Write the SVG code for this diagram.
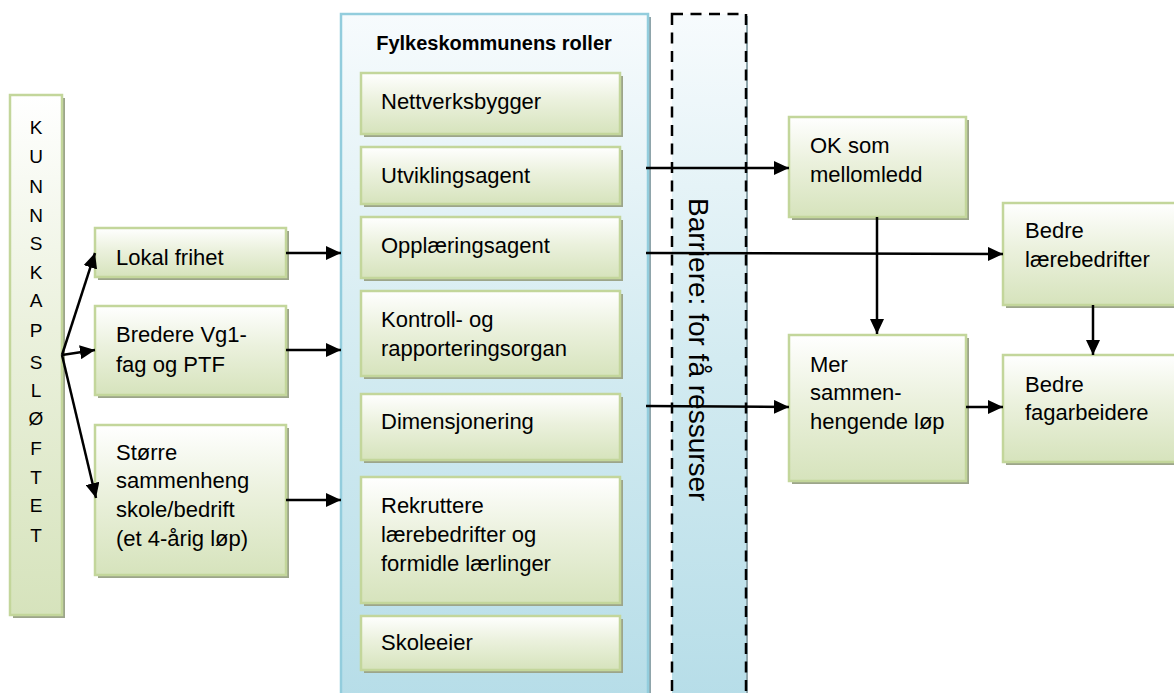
<svg xmlns="http://www.w3.org/2000/svg" width="1174" height="693" viewBox="0 0 1174 693">
  <defs>
    <linearGradient id="greenFill" x1="0" y1="0" x2="0" y2="1">
      <stop offset="0" stop-color="#FFFFFF"/>
      <stop offset="0.45" stop-color="#EBF1DD"/>
      <stop offset="1" stop-color="#D6E3BC"/>
    </linearGradient>
    <linearGradient id="blueFill" x1="0" y1="0" x2="0" y2="1">
      <stop offset="0" stop-color="#F7FBFD"/>
      <stop offset="0.5" stop-color="#D3EBF1"/>
      <stop offset="1" stop-color="#B6DDE8"/>
    </linearGradient>
    <marker id="arrow" markerUnits="userSpaceOnUse" markerWidth="15" markerHeight="14" refX="15" refY="7" orient="auto" viewBox="0 0 15 14">
      <path d="M0,0 L15,7 L0,14 z" fill="#000"/>
    </marker>
    <style>
      .box { fill: url(#greenFill); stroke: #C3D69B; stroke-width: 2.5; }
      .shadow { fill: #9CA58A; }
      .lbl { font-family: "Liberation Sans", Arial, sans-serif; font-size: 22px; fill: #000; }
      .col { font-family: "Liberation Sans", Arial, sans-serif; font-size: 19px; fill: #000; text-anchor: middle; }
      .title { font-family: "Liberation Sans", Arial, sans-serif; font-size: 20px; font-weight: bold; fill: #000; text-anchor: middle; }
      .barrier { font-family: "Liberation Sans", Arial, sans-serif; font-size: 28px; fill: #000; }
      .conn { stroke: #000; stroke-width: 2.5; fill: none; marker-end: url(#arrow); }
    </style>
  </defs>

  <!-- Roles container -->
  <g id="container-roles">
    <rect x="344" y="17" width="307" height="690" fill="#8FA5AB"/>
    <rect x="341" y="14" width="307" height="690" fill="url(#blueFill)" stroke="#93CDDD" stroke-width="2.5"/>
    <text class="title" x="494" y="50">Fylkeskommunens roller</text>
  </g>

  <!-- Barrier band -->
  <g id="barrier">
    <rect x="674" y="16" width="74" height="690" fill="#8FA5AB"/>
    <rect x="672" y="14" width="74" height="690" fill="url(#blueFill)"/>
    <rect x="672" y="14" width="74" height="690" fill="none" stroke="#000" stroke-width="2.5" stroke-dasharray="11 7.5"/>
    <text class="barrier" transform="translate(689,198) rotate(90)">Barriere: for få ressurser</text>
  </g>

  <!-- Left column -->
  <g id="kunnskapsloeftet">
    <rect class="shadow" x="13" y="98" width="52" height="520"/>
    <rect class="box" x="10" y="95" width="52" height="520"/>
    <text class="col" x="36" y="134">K</text>
    <text class="col" x="36" y="163">U</text>
    <text class="col" x="36" y="193">N</text>
    <text class="col" x="36" y="222">N</text>
    <text class="col" x="36" y="250">S</text>
    <text class="col" x="36" y="279">K</text>
    <text class="col" x="36" y="307">A</text>
    <text class="col" x="36" y="337">P</text>
    <text class="col" x="36" y="369">S</text>
    <text class="col" x="36" y="397">L</text>
    <text class="col" x="36" y="425">Ø</text>
    <text class="col" x="36" y="455">F</text>
    <text class="col" x="36" y="484">T</text>
    <text class="col" x="36" y="512">E</text>
    <text class="col" x="36" y="542">T</text>
  </g>

  <g id="lokal-frihet">
    <rect class="shadow" x="98" y="231" width="191" height="49"/>
    <rect class="box" x="95" y="228" width="191" height="49"/>
    <text class="lbl" x="116" y="265">Lokal frihet</text>
  </g>

  <g id="bredere-vg1">
    <rect class="shadow" x="98" y="309" width="191" height="89"/>
    <rect class="box" x="95" y="306" width="191" height="89"/>
    <text class="lbl" x="116" y="342">Bredere Vg1-</text>
    <text class="lbl" x="116" y="372">fag og PTF</text>
  </g>

  <g id="stoerre-sammenheng">
    <rect class="shadow" x="98" y="428" width="191" height="150"/>
    <rect class="box" x="95" y="425" width="191" height="150"/>
    <text class="lbl" x="116" y="460">Større</text>
    <text class="lbl" x="116" y="488">sammenheng</text>
    <text class="lbl" x="116" y="517">skole/bedrift</text>
    <text class="lbl" x="116" y="546">(et 4-årig løp)</text>
  </g>

  <!-- Role boxes -->
  <g id="nettverksbygger">
    <rect class="shadow" x="364" y="76" width="259" height="61"/>
    <rect class="box" x="361" y="73" width="259" height="61"/>
    <text class="lbl" x="381" y="109">Nettverksbygger</text>
  </g>

  <g id="utviklingsagent">
    <rect class="shadow" x="364" y="150" width="259" height="57"/>
    <rect class="box" x="361" y="147" width="259" height="57"/>
    <text class="lbl" x="381" y="183">Utviklingsagent</text>
  </g>

  <g id="opplaeringsagent">
    <rect class="shadow" x="364" y="220" width="259" height="61"/>
    <rect class="box" x="361" y="217" width="259" height="61"/>
    <text class="lbl" x="381" y="253">Opplæringsagent</text>
  </g>

  <g id="kontroll">
    <rect class="shadow" x="364" y="294" width="259" height="85"/>
    <rect class="box" x="361" y="291" width="259" height="85"/>
    <text class="lbl" x="381" y="327">Kontroll- og</text>
    <text class="lbl" x="381" y="356">rapporteringsorgan</text>
  </g>

  <g id="dimensjonering">
    <rect class="shadow" x="364" y="397" width="259" height="66"/>
    <rect class="box" x="361" y="394" width="259" height="66"/>
    <text class="lbl" x="381" y="429">Dimensjonering</text>
  </g>

  <g id="rekruttere">
    <rect class="shadow" x="364" y="480" width="259" height="126"/>
    <rect class="box" x="361" y="477" width="259" height="126"/>
    <text class="lbl" x="381" y="513">Rekruttere</text>
    <text class="lbl" x="381" y="542">lærebedrifter og</text>
    <text class="lbl" x="381" y="571">formidle lærlinger</text>
  </g>

  <g id="skoleeier">
    <rect class="shadow" x="364" y="619" width="259" height="54"/>
    <rect class="box" x="361" y="616" width="259" height="54"/>
    <text class="lbl" x="381" y="650">Skoleeier</text>
  </g>

  <!-- Outcome boxes -->
  <g id="ok-mellomledd">
    <rect class="shadow" x="792" y="120" width="177" height="100"/>
    <rect class="box" x="789" y="117" width="177" height="100"/>
    <text class="lbl" x="810" y="153">OK som</text>
    <text class="lbl" x="810" y="182">mellomledd</text>
  </g>

  <g id="bedre-laerebedrifter">
    <rect class="shadow" x="1006" y="206" width="190" height="102"/>
    <rect class="box" x="1003" y="203" width="190" height="102"/>
    <text class="lbl" x="1025" y="238">Bedre</text>
    <text class="lbl" x="1025" y="267">lærebedrifter</text>
  </g>

  <g id="mer-sammenhengende">
    <rect class="shadow" x="792" y="338" width="177" height="146"/>
    <rect class="box" x="789" y="335" width="177" height="146"/>
    <text class="lbl" x="810" y="372">Mer</text>
    <text class="lbl" x="810" y="400">sammen-</text>
    <text class="lbl" x="810" y="429">hengende løp</text>
  </g>

  <g id="bedre-fagarbeidere">
    <rect class="shadow" x="1006" y="358" width="190" height="107"/>
    <rect class="box" x="1003" y="355" width="190" height="107"/>
    <text class="lbl" x="1025" y="392">Bedre</text>
    <text class="lbl" x="1025" y="420">fagarbeidere</text>
  </g>

  <!-- Connectors -->
  <g id="connectors">
    <line class="conn" x1="62" y1="355" x2="95" y2="253"/>
    <line class="conn" x1="62" y1="355" x2="95" y2="350"/>
    <line class="conn" x1="62" y1="355" x2="96" y2="498"/>
    <line class="conn" x1="286" y1="253" x2="341" y2="253"/>
    <line class="conn" x1="286" y1="350" x2="341" y2="350"/>
    <line class="conn" x1="286" y1="500" x2="341" y2="500"/>
    <line class="conn" x1="646" y1="168" x2="789" y2="168"/>
    <line class="conn" x1="646" y1="253" x2="1003" y2="254"/>
    <line class="conn" x1="646" y1="406" x2="789" y2="407"/>
    <line class="conn" x1="877" y1="217" x2="877" y2="334"/>
    <line class="conn" x1="1093" y1="305" x2="1093" y2="355"/>
    <line class="conn" x1="966" y1="407" x2="1003" y2="407"/>
  </g>
</svg>
